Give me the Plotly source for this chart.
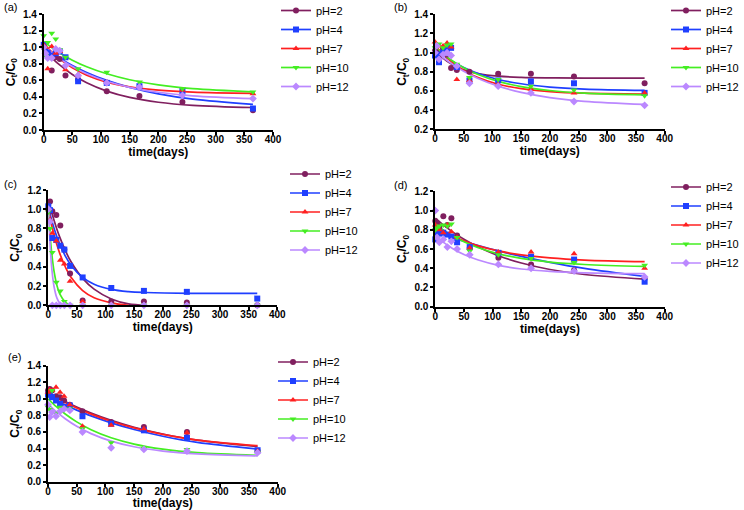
import plotly.graph_objects as go

W, H = 744, 510

DAYS = [0, 3, 7, 14, 21, 28, 38, 60, 110, 167, 242, 365]
FIT_DAYS = [0, 15, 30, 50, 75, 110, 150, 200, 260, 365]
FIT_DAYS_C = [0, 3, 6, 10, 15, 20, 30, 40, 60, 80, 110, 140, 170, 250, 365]
PH_LABELS = ["pH=2", "pH=4", "pH=7", "pH=10", "pH=12"]
COLORS = ["#801f5f", "#1f3fff", "#ff2020", "#44ee22", "#bb88ff"]
SYMBOLS = ["circle", "square", "triangle-up", "triangle-down", "diamond"]

# ---- panel (a) ----
A_PH2 = [1.00, 0.95, 0.92, 0.72, 0.88, 0.86, 0.66, 0.61, 0.47, 0.41, 0.34, 0.24]
A_PH4 = [1.03, 0.95, 0.93, 0.90, 0.93, 0.95, 0.88, 0.59, 0.57, 0.53, 0.47, 0.26]
A_PH7 = [1.03, 1.00, 0.74, 1.01, 0.93, 0.95, 0.73, 0.67, 0.58, 0.53, 0.48, 0.44]
A_PH10 = [1.14, 0.90, 1.06, 1.17, 1.10, 0.97, 0.88, 0.74, 0.70, 0.58, 0.50, 0.46]
A_PH12 = [1.00, 0.93, 0.87, 0.87, 0.98, 0.96, 0.78, 0.66, 0.57, 0.52, 0.42, 0.38]
A_FIT2 = [0.98, 0.868, 0.775, 0.671, 0.571, 0.470, 0.394, 0.336, 0.299, 0.272]
A_FIT4 = [1.00, 0.926, 0.859, 0.781, 0.696, 0.600, 0.516, 0.438, 0.374, 0.310]
A_FIT7 = [1.05, 0.939, 0.849, 0.752, 0.664, 0.580, 0.522, 0.482, 0.459, 0.444]
A_FIT10 = [1.07, 0.992, 0.923, 0.845, 0.765, 0.680, 0.608, 0.545, 0.500, 0.462]
A_FIT12 = [1.02, 0.931, 0.855, 0.768, 0.681, 0.590, 0.516, 0.457, 0.414, 0.380]

# ---- panel (b) ----
B_PH2 = [1.02, 1.00, 0.95, 1.04, 0.98, 0.84, 0.82, 0.80, 0.78, 0.78, 0.75, 0.68]
B_PH4 = [0.97, 0.98, 0.90, 1.00, 1.04, 1.05, 0.85, 0.71, 0.71, 0.70, 0.68, 0.58]
B_PH7 = [1.11, 1.08, 1.07, 1.07, 1.10, 1.06, 0.72, 0.71, 0.67, 0.62, 0.58, 0.58]
B_PH10 = [1.05, 1.07, 1.09, 1.05, 1.08, 1.09, 0.88, 0.74, 0.72, 0.65, 0.61, 0.55]
B_PH12 = [1.00, 1.07, 0.93, 0.98, 1.00, 0.97, 0.86, 0.68, 0.65, 0.58, 0.49, 0.45]
B_FIT2 = [1.03, 0.938, 0.875, 0.820, 0.781, 0.754, 0.742, 0.737, 0.735, 0.735]
B_FIT4 = [1.04, 0.969, 0.909, 0.844, 0.782, 0.720, 0.675, 0.641, 0.620, 0.606]
B_FIT7 = [1.08, 0.980, 0.899, 0.815, 0.739, 0.670, 0.624, 0.594, 0.577, 0.568]
B_FIT10 = [1.06, 0.982, 0.916, 0.843, 0.772, 0.700, 0.646, 0.605, 0.578, 0.559]
B_FIT12 = [1.02, 0.945, 0.880, 0.805, 0.730, 0.650, 0.585, 0.531, 0.492, 0.460]

# ---- panel (c) ----
C_PH2 = [1.00, 1.08, 0.98, 0.94, 0.83, 0.58, 0.33, 0.05, 0.04, 0.04, 0.03, 0.00]
C_PH4 = [1.03, 0.99, 0.70, 0.68, 0.62, 0.58, 0.41, 0.29, 0.18, 0.15, 0.14, 0.07]
C_PH7 = [1.00, 0.89, 0.75, 0.67, 0.47, 0.43, 0.25, 0.04, 0.01, 0.00, 0.00, 0.00]
C_PH10 = [0.97, 0.80, 0.55, 0.24, 0.15, 0.04, 0.00, 0.00, 0.00, 0.00, 0.00, 0.00]
C_PH12 = [1.00, 0.87, 0.00, 0.00, 0.00, 0.00, 0.00, 0.00, 0.00, 0.00, 0.00, 0.00]
C_FIT2 = [1.10, 1.03, 0.965, 0.884, 0.792, 0.709, 0.566, 0.450, 0.280, 0.168, 0.066, 0.015, 0.0, None, None]
C_FIT4 = [1.025, 0.952, 0.884, 0.803, 0.714, 0.636, 0.510, 0.415, 0.290, 0.219, 0.165, 0.142, 0.133, 0.125, 0.125]
C_FIT7 = [1.00, 0.912, 0.831, 0.735, 0.630, 0.540, 0.396, 0.289, 0.153, 0.079, 0.026, 0.0, None, None, None]
C_FIT10 = [1.00, 0.735, 0.540, 0.355, 0.208, 0.118, 0.031, 0.0, None, None, None, None, None, None, None]
C_FIT12 = [1.05, 0.642, 0.390, 0.196, 0.077, 0.024, 0.0, None, None, None, None, None, None, None, None]

# ---- panel (d) ----
D_PH2 = [0.89, 0.87, 0.83, 0.94, 0.85, 0.92, 0.74, 0.61, 0.51, 0.44, 0.38, 0.29]
D_PH4 = [0.70, 0.75, 0.76, 0.77, 0.75, 0.73, 0.67, 0.62, 0.56, 0.52, 0.49, 0.26]
D_PH7 = [0.85, 0.83, 0.80, 0.77, 0.85, 0.78, 0.72, 0.61, 0.57, 0.57, 0.55, 0.40]
D_PH10 = [0.80, 0.82, 0.84, 0.85, 0.84, 0.86, 0.72, 0.58, 0.54, 0.50, 0.46, 0.43]
D_PH12 = [1.00, 0.72, 0.67, 0.70, 0.62, 0.68, 0.60, 0.54, 0.44, 0.40, 0.37, 0.31]
D_FIT2 = [0.92, 0.845, 0.778, 0.701, 0.620, 0.530, 0.454, 0.387, 0.335, 0.287]
D_FIT4 = [0.78, 0.748, 0.718, 0.680, 0.636, 0.580, 0.523, 0.461, 0.398, 0.314]
D_FIT7 = [0.84, 0.785, 0.738, 0.685, 0.633, 0.580, 0.539, 0.507, 0.485, 0.468]
D_FIT10 = [0.86, 0.794, 0.737, 0.675, 0.613, 0.550, 0.502, 0.464, 0.439, 0.419]
D_FIT12 = [0.74, 0.666, 0.606, 0.543, 0.485, 0.430, 0.392, 0.367, 0.352, 0.343]

# ---- panel (e) ----
E_PH2 = [1.10, 1.12, 1.10, 1.03, 1.02, 0.98, 0.93, 0.85, 0.72, 0.66, 0.60, 0.37]
E_PH4 = [1.05, 1.08, 1.02, 0.98, 0.94, 0.90, 0.92, 0.79, 0.70, 0.62, 0.53, 0.38]
E_PH7 = [1.08, 1.11, 1.10, 1.14, 1.08, 1.03, 0.93, 0.67, 0.68, 0.64, 0.59, 0.37]
E_PH10 = [0.90, 0.87, 1.10, 0.83, 0.90, 0.87, 0.88, 0.64, 0.47, 0.40, 0.39, 0.35]
E_PH12 = [0.93, 0.78, 0.84, 0.79, 0.85, 0.88, 0.86, 0.60, 0.41, 0.39, 0.37, 0.35]
E_FIT2 = [1.08, 1.021, 0.967, 0.901, 0.828, 0.740, 0.657, 0.576, 0.502, 0.425]
E_FIT4 = [1.03, 0.976, 0.925, 0.864, 0.794, 0.710, 0.630, 0.549, 0.474, 0.395]
E_FIT7 = [1.07, 1.010, 0.956, 0.889, 0.816, 0.730, 0.649, 0.571, 0.502, 0.435]
E_FIT10 = [1.00, 0.902, 0.817, 0.722, 0.628, 0.530, 0.454, 0.393, 0.351, 0.318]
E_FIT12 = [0.94, 0.842, 0.760, 0.669, 0.580, 0.490, 0.422, 0.370, 0.336, 0.312]

PANELS = [
    dict(label="(a)", pts=[A_PH2, A_PH4, A_PH7, A_PH10, A_PH12],
         fits=[A_FIT2, A_FIT4, A_FIT7, A_FIT10, A_FIT12], fx=FIT_DAYS,
         yr=[0, 1.4], px=(43.7, 273.0, 14.3, 130.0), leg=(276, 48.5), lab=(2, 7)),
    dict(label="(b)", pts=[B_PH2, B_PH4, B_PH7, B_PH10, B_PH12],
         fits=[B_FIT2, B_FIT4, B_FIT7, B_FIT10, B_FIT12], fx=FIT_DAYS,
         yr=[0.2, 1.4], px=(435.0, 664.7, 14.3, 129.3), leg=(666, 48.5), lab=(392, 7)),
    dict(label="(c)", pts=[C_PH2, C_PH4, C_PH7, C_PH10, C_PH12],
         fits=[C_FIT2, C_FIT4, C_FIT7, C_FIT10, C_FIT12], fx=FIT_DAYS_C,
         yr=[0, 1.2], px=(48.3, 277.3, 190.0, 305.3), leg=(285, 212), lab=(2, 184)),
    dict(label="(d)", pts=[D_PH2, D_PH4, D_PH7, D_PH10, D_PH12],
         fits=[D_FIT2, D_FIT4, D_FIT7, D_FIT10, D_FIT12], fx=FIT_DAYS,
         yr=[0, 1.2], px=(435.3, 664.7, 191.3, 306.7), leg=(666, 225), lab=(392, 185)),
    dict(label="(e)", pts=[E_PH2, E_PH4, E_PH7, E_PH10, E_PH12],
         fits=[E_FIT2, E_FIT4, E_FIT7, E_FIT10, E_FIT12], fx=FIT_DAYS,
         yr=[0, 1.4], px=(48.0, 277.7, 365.7, 481.7), leg=(273, 400), lab=(6, 357)),
]

FONT = "Liberation Sans, Arial, sans-serif"
fig = go.Figure()
layout = dict(width=W, height=H,
              margin=dict(l=0, r=0, t=0, b=0, pad=0, autoexpand=False),
              paper_bgcolor="white", plot_bgcolor="white",
              font=dict(family=FONT, color="black"), annotations=[])

for i, p in enumerate(PANELS):
    n = "" if i == 0 else str(i + 1)
    xa, ya = "x" + n, "y" + n
    legname = "legend" + n
    for j in range(5):
        fig.add_trace(go.Scatter(
            x=p["fx"], y=p["fits"][j], mode="lines", xaxis=xa, yaxis=ya,
            line=dict(color=COLORS[j], width=1.7, shape="spline", smoothing=1.0),
            showlegend=False, hoverinfo="skip"))
    for j in range(5):
        fig.add_trace(go.Scatter(
            x=DAYS, y=p["pts"][j], mode="markers", xaxis=xa, yaxis=ya,
            marker=dict(color=COLORS[j], symbol=SYMBOLS[j], size=6),
            cliponaxis=False, showlegend=False))
    for j in range(5):
        fig.add_trace(go.Scatter(
            x=[None], y=[None], mode="lines+markers", xaxis=xa, yaxis=ya,
            name=PH_LABELS[j], legend=legname,
            line=dict(color=COLORS[j], width=1.7),
            marker=dict(color=COLORS[j], symbol=SYMBOLS[j], size=6)))
    x0, x1, yt, yb = p["px"]
    ax = dict(domain=[x0 / W, x1 / W], range=[0, 400], anchor=ya,
              tickmode="array", tickvals=list(range(0, 401, 50)),
              ticks="outside", ticklen=3, tickwidth=1.5, tickcolor="black",
              ticklabelstandoff=-4,
              showline=True, linewidth=1.8, linecolor="black",
              showgrid=False, zeroline=False, automargin=False,
              tickfont=dict(size=10, family=FONT, weight="bold"),
              title=dict(text="time(days)", standoff=0,
                         font=dict(size=12, family=FONT, weight="bold")))
    lo, hi = p["yr"]
    yv = [round(lo + 0.2 * k, 1) for k in range(int(round((hi - lo) / 0.2)) + 1)]
    ay = dict(domain=[1 - yb / H, 1 - yt / H], range=[lo, hi], anchor=xa,
              tickmode="array", tickvals=yv, ticktext=["%.1f" % v for v in yv],
              ticks="outside", ticklen=3, tickwidth=1.5, tickcolor="black",
              showline=True, linewidth=1.8, linecolor="black",
              showgrid=False, zeroline=False, automargin=False,
              tickfont=dict(size=10, family=FONT, weight="bold"),
              title=dict(text="C<sub>t</sub>/C<sub>0</sub>", standoff=5,
                         font=dict(size=12, family=FONT, weight="bold")))
    layout["xaxis" + n] = ax
    layout["yaxis" + n] = ay
    lx, ly = p["leg"]
    layout[legname] = dict(x=lx / W, y=1 - ly / H, xanchor="left", yanchor="middle",
                           bgcolor="rgba(0,0,0,0)", borderwidth=0,
                           font=dict(size=11, family=FONT), itemwidth=30)
    layout["annotations"].append(dict(
        text=p["label"], x=p["lab"][0] / W, y=1 - p["lab"][1] / H,
        xref="paper", yref="paper", xanchor="left", yanchor="middle",
        showarrow=False, font=dict(size=11, family=FONT)))

fig.update_layout(**layout)
fig.write_html("out.html", config={"displayModeBar": False},
               post_script="document.body.style.margin='0';")
